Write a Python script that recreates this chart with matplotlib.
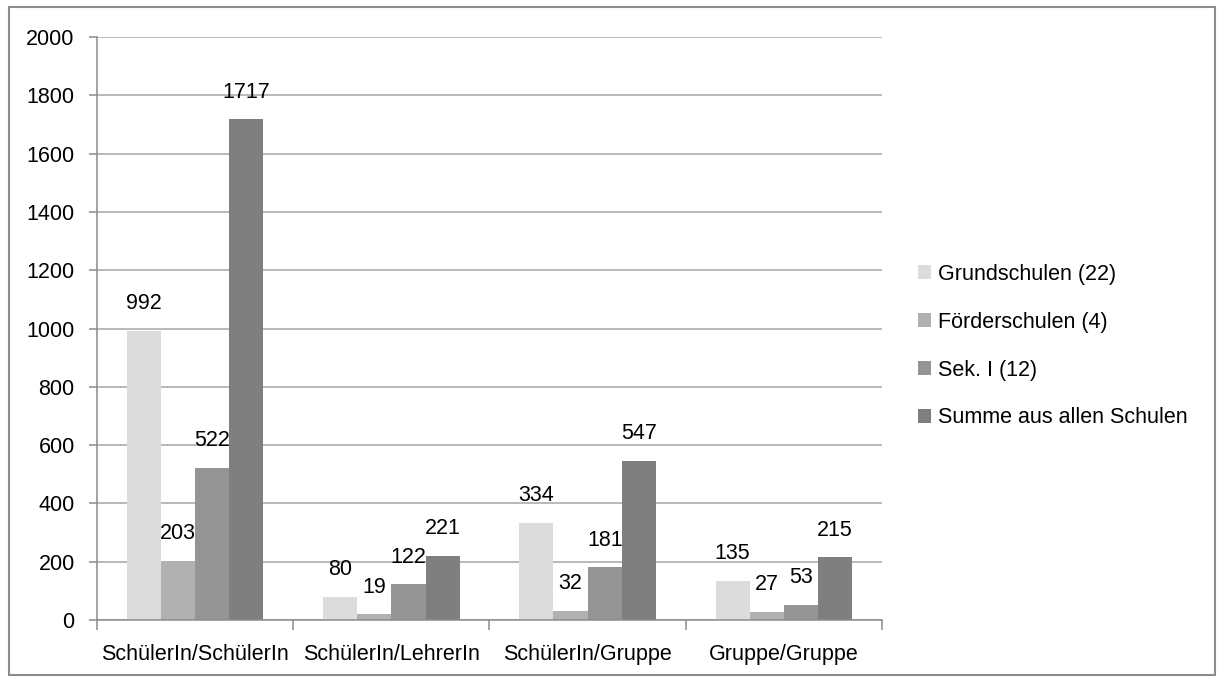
import numpy as np
import matplotlib.pyplot as plt
from matplotlib.patches import Rectangle

plt.rcParams['font.family'] = ['Liberation Sans', 'DejaVu Sans']

# data
categories = ["SchülerIn/SchülerIn", "SchülerIn/LehrerIn", "SchülerIn/Gruppe", "Gruppe/Gruppe"]
series_names = ["Grundschulen (22)", "Förderschulen (4)", "Sek. I (12)", "Summe aus allen Schulen"]
grundschulen = [992, 80, 334, 135]
foerderschulen = [203, 19, 32, 27]
sek1 = [522, 122, 181, 53]
summe = [1717, 221, 547, 215]
yticks = [0, 200, 400, 600, 800, 1000, 1200, 1400, 1600, 1800, 2000]

colors = ["#dcdcdc", "#b1b1b1", "#959595", "#7f7f7f"]
series = [grundschulen, foerderschulen, sek1, summe]
fs = 15.5

fig = plt.figure(figsize=(12.21, 6.8), dpi=100)
ax = fig.add_axes([0.0794, 0.0882, 0.643, 0.8574])

x = np.arange(len(categories))
w = 0.174
for k, (vals, name, c) in enumerate(zip(series, series_names, colors)):
    pos = x + (k - 1.5) * w
    ax.bar(pos, vals, width=w, color=c, label=name, zorder=2)
    for p, v in zip(pos, vals):
        ax.annotate(str(v), (p, v), xytext=(0, 12), textcoords="offset points",
                    ha="center", va="bottom", fontsize=fs, color="black")

ax.set_xlim(-0.5, len(categories) - 0.5)
ax.set_ylim(0, 2000)
ax.set_yticks(yticks)
ax.set_yticklabels([str(t) for t in yticks], fontsize=fs)
ax.yaxis.grid(True, color="#a6a6a6", linewidth=1.1, zorder=0)
ax.set_axisbelow(True)

ax.set_xticks(x)
ax.set_xticklabels(categories, fontsize=fs)
ax.set_xticks(np.arange(-0.5, len(categories)), minor=True)
ax.tick_params(axis="x", which="major", length=0, pad=17)
ax.tick_params(axis="x", which="minor", length=7, color="#8c8c8c", width=1.1)
ax.tick_params(axis="y", length=6, color="#8c8c8c", width=1.1, pad=10)

for s in ["top", "right"]:
    ax.spines[s].set_visible(False)
for s in ["left", "bottom"]:
    ax.spines[s].set_color("#8c8c8c")
    ax.spines[s].set_linewidth(1.1)

leg = fig.legend(loc="center left", bbox_to_anchor=(0.736, 0.491), frameon=False,
                 fontsize=fs, handlelength=0.6, handleheight=0.6,
                 handletextpad=0.35, labelspacing=1.25)

fig.patches.append(Rectangle((0.007, 0.008), 0.988, 0.982, transform=fig.transFigure,
                             fill=False, edgecolor="#8c8c8c", linewidth=1.5))

fig.savefig("out.png", dpi=100)
